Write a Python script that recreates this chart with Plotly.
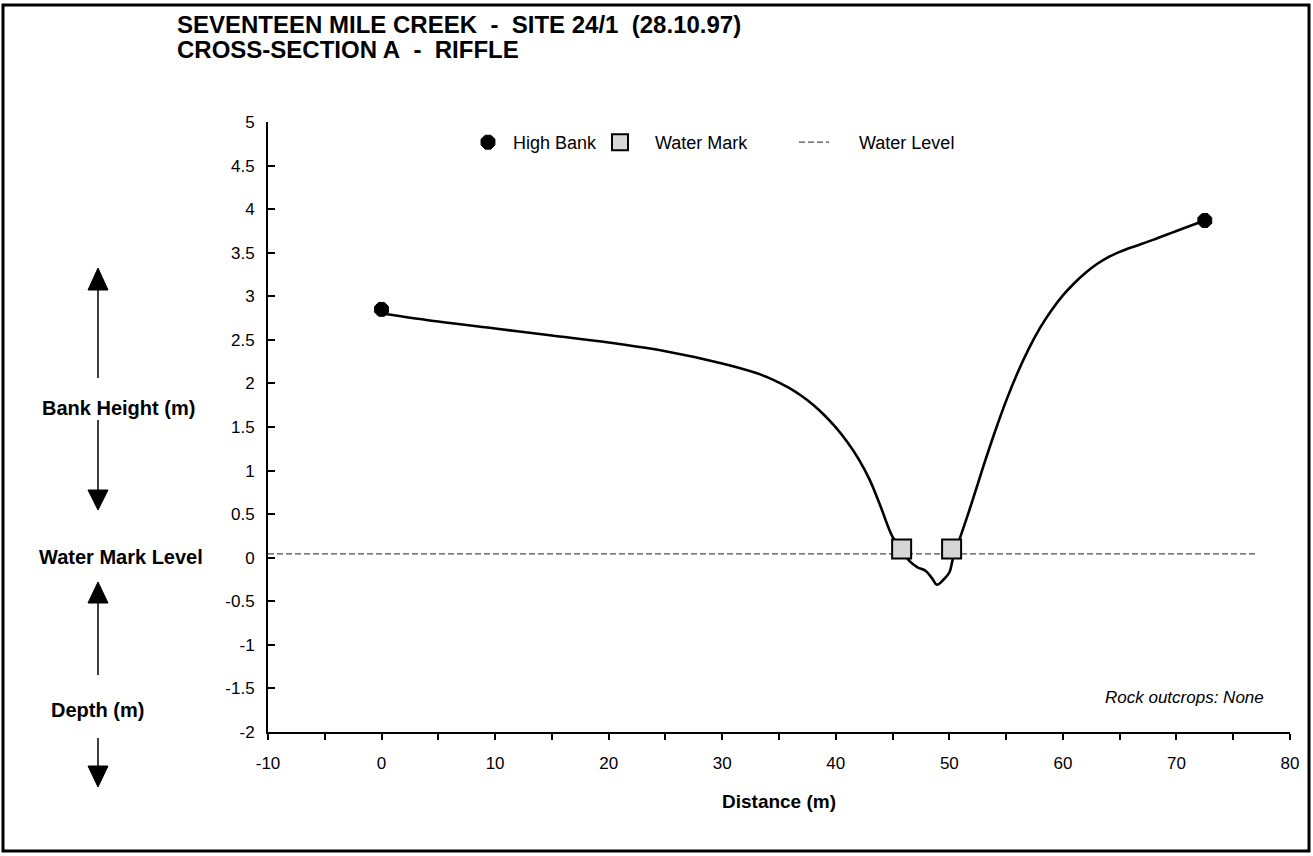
import plotly.graph_objects as go

# ---------------- data ----------------
profile_x = [0.2, 5, 10, 15, 20, 25, 30, 33, 34, 35, 36, 37, 38, 39, 40, 41, 42, 43, 44, 45, 45.8,
             46.5, 47.2, 47.9, 48.5, 48.9, 49.5, 50.0, 50.3, 50.6,
             51, 52, 53, 54, 55, 56, 57, 58, 59, 60, 61, 62, 63, 64, 65, 66, 68, 70, 72.5]
profile_y = [2.80, 2.71, 2.63, 2.55, 2.47, 2.37, 2.23, 2.12, 2.07, 2.01, 1.94, 1.855, 1.755, 1.635, 1.495,
             1.33, 1.135, 0.89, 0.57, 0.24, 0.10,
             -0.04, -0.11, -0.15, -0.24, -0.31, -0.25, -0.17, -0.02, 0.10,
             0.25, 0.64, 1.05, 1.44, 1.80, 2.12, 2.40, 2.64, 2.84, 3.01, 3.15, 3.27, 3.37, 3.45, 3.51, 3.56,
             3.65, 3.75, 3.87]

high_bank_x = [0.0, 72.5]
high_bank_y = [2.85, 3.87]

water_mark_x = [45.8, 50.2]
water_mark_y = [0.10, 0.10]

water_level_x = [-10, 77]
water_level_y = [0.045, 0.045]

x_tickvals = [-10, -5, 0, 5, 10, 15, 20, 25, 30, 35, 40, 45, 50, 55, 60, 65, 70, 75, 80]
x_ticktext = ["-10", "", "0", "", "10", "", "20", "", "30", "", "40", "", "50", "", "60", "", "70", "", "80"]
y_tickvals = [-2, -1.5, -1, -0.5, 0, 0.5, 1, 1.5, 2, 2.5, 3, 3.5, 4, 4.5, 5]
y_ticktext = ["-2", "-1.5", "-1", "-0.5", "0", "0.5", "1", "1.5", "2", "2.5", "3", "3.5", "4", "4.5", "5"]

title_line1 = "SEVENTEEN MILE CREEK\u00a0 -\u00a0 SITE 24/1\u00a0 (28.10.97)"
title_line2 = "CROSS-SECTION A\u00a0 -\u00a0 RIFFLE"

# ---------------- layout geometry ----------------
W, H = 1313, 856
L, R, T, B = 268, 23, 122, 124
PW, PH = W - L - R, H - T - B
FONT = "Liberation Sans, Arial, Helvetica, sans-serif"


def px(xp):
    return (xp - L) / PW


def py(yp):
    return (H - B - yp) / PH


fig = go.Figure()

fig.add_trace(go.Scatter(x=water_level_x, y=water_level_y, mode="lines",
                         name="\u00a0\u00a0\u00a0\u00a0\u00a0Water Level",
                         line=dict(color="#4d4d4d", width=1.3, dash="6px,3px"), legend="legend3"))
fig.add_trace(go.Scatter(x=profile_x, y=profile_y, mode="lines", line_shape="spline",
                         line=dict(color="black", width=2.6, smoothing=1.0), showlegend=False,
                         hoverinfo="skip"))
fig.add_trace(go.Scatter(x=high_bank_x, y=high_bank_y, mode="markers", name="\u00a0High Bank",
                         marker=dict(symbol="octagon", size=15, color="black",
                                     line=dict(color="black", width=1)), legend="legend"))
fig.add_trace(go.Scatter(x=water_mark_x, y=water_mark_y, mode="markers", name="\u00a0\u00a0\u00a0Water Mark",
                         marker=dict(symbol="square", size=19, color="#d6d6d6",
                                     line=dict(color="black", width=2)), legend="legend2"))

shapes = []
# outer border
shapes.append(dict(type="rect", xref="paper", yref="paper", x0=px(3), x1=px(1309), y0=py(851), y1=py(5),
                   line=dict(color="black", width=3), fillcolor="rgba(0,0,0,0)", layer="above"))


def arrow(x, y_tail, y_tip, y_base):
    shapes.append(dict(type="line", xref="paper", yref="paper", x0=px(x), x1=px(x), y0=py(y_tail), y1=py(y_base),
                       line=dict(color="black", width=1.5)))
    shapes.append(dict(type="path", xref="paper", yref="paper",
                       path=f"M {px(x-10)} {py(y_base)} L {px(x+10)} {py(y_base)} L {px(x)} {py(y_tip)} Z",
                       fillcolor="black", line=dict(color="black", width=1)))


arrow(98, 378, 268, 290)
arrow(98, 420, 510, 490)
arrow(98, 675, 582, 603)
arrow(98, 738, 787, 766)

annotations = [
    dict(text="<b>" + title_line1 + "</b>", xref="paper", yref="paper", x=px(175), y=py(24),
         xanchor="left", yanchor="middle", showarrow=False, font=dict(size=24, family=FONT, color="black")),
    dict(text="<b>" + title_line2 + "</b>", xref="paper", yref="paper", x=px(175), y=py(50),
         xanchor="left", yanchor="middle", showarrow=False, font=dict(size=24, family=FONT, color="black")),
    dict(text="<b>Bank Height (m)</b>", xref="paper", yref="paper", x=px(118), y=py(408),
         xanchor="center", yanchor="middle", showarrow=False, font=dict(size=20, family=FONT, color="black")),
    dict(text="<b>Water Mark Level</b>", xref="paper", yref="paper", x=px(121), y=py(557),
         xanchor="center", yanchor="middle", showarrow=False, font=dict(size=20, family=FONT, color="black")),
    dict(text="<b>Depth (m)</b>", xref="paper", yref="paper", x=px(97), y=py(710),
         xanchor="center", yanchor="middle", showarrow=False, font=dict(size=20, family=FONT, color="black")),
    dict(text="<i>Rock outcrops: None</i>", xref="paper", yref="paper", x=px(1266), y=py(697),
         xanchor="right", yanchor="middle", showarrow=False, font=dict(size=17, family=FONT, color="black")),
]

leg_common = dict(orientation="h", yanchor="top", xanchor="left", bgcolor="rgba(0,0,0,0)",
                  font=dict(size=18, family=FONT), itemwidth=30)

fig.update_layout(
    width=W, height=H, autosize=False,
    margin=dict(l=L, r=R, t=T, b=B, pad=0),
    paper_bgcolor="white", plot_bgcolor="white",
    font=dict(family=FONT, size=17, color="black"),
    shapes=shapes, annotations=annotations,
    showlegend=True,
    legend=dict(x=px(468), y=py(124), **leg_common),
    legend2=dict(x=px(600), y=py(124), **leg_common),
    legend3=dict(x=px(794), y=py(124), **leg_common),
    xaxis=dict(range=[-10, 80], tickvals=x_tickvals, ticktext=x_ticktext, showgrid=False, zeroline=False,
               showline=True, linecolor="black", linewidth=2, ticks="outside", ticklen=6, tickwidth=2,
               tickcolor="black", ticklabelstandoff=9, tickfont=dict(size=17),
               title=dict(text="<b>Distance (m)</b>", font=dict(size=19, family=FONT), standoff=22)),
    yaxis=dict(range=[-2, 5], tickvals=y_tickvals, ticktext=y_ticktext, showgrid=False, zeroline=False,
               showline=True, linecolor="black", linewidth=2, ticks="inside", ticklen=7, tickwidth=2,
               tickcolor="black", ticklabelstandoff=8, tickfont=dict(size=17)),
)

fig.write_html("out.html", config={"displayModeBar": False},
               post_script="document.body.style.margin='0';document.body.style.overflow='hidden';")
